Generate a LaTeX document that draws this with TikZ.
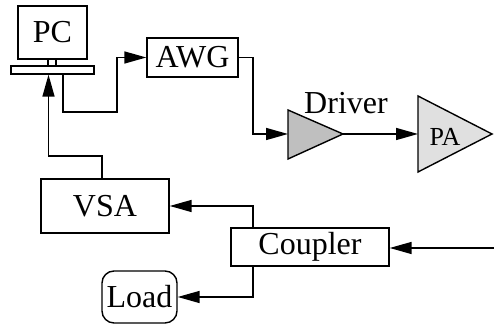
\documentclass[tikz,border=0pt]{standalone}
\usepackage{fontspec}
\setmainfont{Liberation Serif}
\usetikzlibrary{arrows.meta,calc}
\begin{document}
\begin{tikzpicture}[x=0.5pt,y=-0.5pt,
  line width=0.7pt,
  box/.style={draw,line width=0.7pt,inner sep=0pt,font=\fontsize{16}{19}\selectfont},
  arr/.style={-{Triangle[length=11pt,width=6pt]}},
  con/.style={line width=0.75pt}]
\useasboundingbox (0,0) rectangle (494,324);
% PC
\node[box,minimum width=34.5pt,minimum height=26.5pt] (pc) at (52.5,32.5) {PC};
\node[box,minimum width=4pt,minimum height=3.5pt] (neck) at (52,62.5) {};
\node[box,minimum width=41.5pt,minimum height=4pt] (base) at (52.5,70) {};
% AWG
\node[box,minimum width=45.5pt,minimum height=19.5pt] (awg) at (192.5,57.5) {AWG};
% Driver
\coordinate (drvin) at (288,134);
\coordinate (drvout) at (343,134);
\draw[fill=black!25] (288,110) -- (drvout) -- (288,159) -- cycle;
\node[font=\fontsize{16}{19}\selectfont,inner sep=0pt] (drvlabel) at (346,103) {Driver};
% PA
\coordinate (pain) at (418,134);
\draw[fill=black!12] (418,96) -- (492,134) -- (418,172) -- cycle;
\node[font=\fontsize{13}{15}\selectfont,inner sep=0pt] (palabel) at (445,137) {PA};
% VSA
\node[box,minimum width=64pt,minimum height=27pt] (vsa) at (105,206) {VSA};
% Coupler
\node[box,minimum width=79pt,minimum height=19pt] (coupler) at (310,247) {Coupler};
% Load
\node[box,rounded corners=6pt,minimum width=37.5pt,minimum height=26pt] (load) at (139.5,297) {Load};
% input
\coordinate (inp) at (494,248);
% connectors
\draw[con,arr] ([xshift=-1.5pt]vsa.north) |- (48.5,156) -- ([xshift=-2pt]base.south);
\draw[con,arr] ([xshift=5.25pt]base.south) |- (117,112) |- (awg.west);
\draw[con,arr] (awg.east) -| (253,134) -- (drvin);
\draw[con,arr] (drvout) -- (pain);
\draw[con,arr] (inp) -- (inp -| coupler.east);
\draw[con,arr] ([xshift=-28.5pt]coupler.north) |- (vsa.east);
\draw[con,arr] ([xshift=-28.5pt]coupler.south) |- (load.east);
\end{tikzpicture}
\end{document}
